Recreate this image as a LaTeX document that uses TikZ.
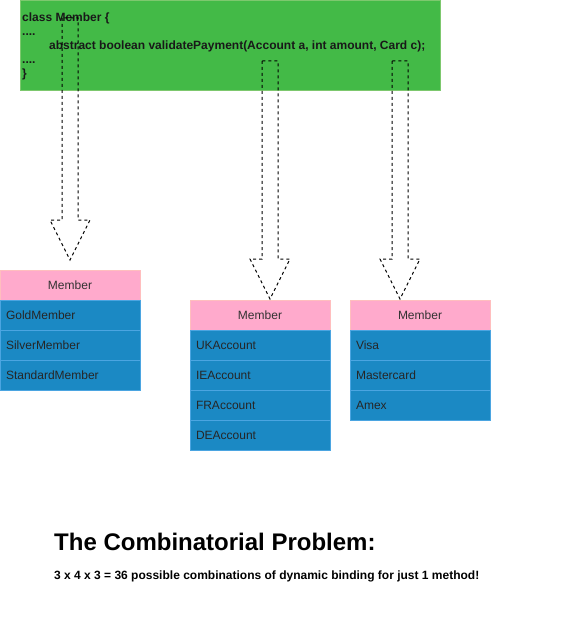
\documentclass[tikz,border=0pt]{standalone}
\usepackage{fontspec}
\setmainfont{Liberation Sans}
\usetikzlibrary{positioning}
\usetikzlibrary{calc}

\definecolor{codegreen}{RGB}{67,186,71}
\definecolor{codeline}{RGB}{125,200,110}
\definecolor{hdrpink}{RGB}{255,170,204}
\definecolor{hdrline}{RGB}{255,190,190}
\definecolor{rowblue}{RGB}{27,137,196}
\definecolor{rowline}{RGB}{75,165,225}

\tikzset{
	hdr/.style={draw=hdrline, fill=hdrpink, minimum width=140pt, minimum height=30pt, inner sep=0pt, outer sep=0pt, font=\fontsize{12}{14}\selectfont, text=black!80},
	row/.style={draw=rowline, fill=rowblue, minimum width=140pt, minimum height=30pt, inner xsep=6pt, inner ysep=0pt, outer sep=0pt, text width=128pt, align=left, font=\fontsize{12}{14}\selectfont, text=black!85},
	blockarr/.style={draw=black, dash pattern=on 3pt off 3pt, line width=1pt},
}

\newcommand{\blockarrow}[2]{%
	\draw[blockarr] let \p1=(#1), \p2=(#2) in
		(\x1-8pt,\y1) -- (\x1-8pt,\y2+40pt) -- (\x1-20pt,\y2+40pt) -- (\x2,\y2)
		-- (\x1+20pt,\y2+40pt) -- (\x1+8pt,\y2+40pt) -- (\x1+8pt,\y1) -- cycle;}

\begin{document}
\begin{tikzpicture}[x=1pt,y=-1pt]
	\useasboundingbox (0,0) rectangle (579,644);

	\node[fill=codegreen, draw=codeline, minimum width=420pt, minimum height=90pt, outer sep=0pt] (code) at (230,45) {};
	\node[anchor=north west, inner sep=0pt, align=left, font=\bfseries\fontsize{12}{14}\selectfont, text=black!90] (src) at (22,12.5)
		{class Member \{\\....\\\hspace*{27pt}abstract boolean validatePayment(Account a, int amount, Card c);\\....\\\}};

	\node[hdr] (mem) at (70,285) {Member};
	\node[row, below=0pt of mem] (gold) {GoldMember};
	\node[row, below=0pt of gold] (silver) {SilverMember};
	\node[row, below=0pt of silver] (std) {StandardMember};

	\node[hdr] (acct) at (260,315) {Member};
	\node[row, below=0pt of acct] (uk) {UKAccount};
	\node[row, below=0pt of uk] (ie) {IEAccount};
	\node[row, below=0pt of ie] (fr) {FRAccount};
	\node[row, below=0pt of fr] (de) {DEAccount};

	\node[hdr] (card) at (420,315) {Member};
	\node[row, below=0pt of card] (visa) {Visa};
	\node[row, below=0pt of visa] (mc) {Mastercard};
	\node[row, below=0pt of mc] (amex) {Amex};

	\coordinate (s1) at (70,18);
	\coordinate (s2) at (270,61);
	\coordinate (s3) at (400,61);
	\coordinate (t1) at ([yshift=10pt]mem.north);
	\coordinate (t2) at ([xshift=10pt,yshift=1pt]acct.north);
	\coordinate (t3) at ([xshift=-20pt,yshift=1pt]card.north);
	\blockarrow{s1}{t1}
	\blockarrow{s2}{t2}
	\blockarrow{s3}{t3}

	\node[anchor=west, inner sep=0pt, font=\bfseries\fontsize{24}{28}\selectfont] (title) at (54,542) {The Combinatorial Problem:};
	\node[anchor=west, inner sep=0pt, font=\bfseries\fontsize{12}{14}\selectfont] (note) at (54,576) {3 x 4 x 3 = 36 possible combinations of dynamic binding for just 1 method!};
\end{tikzpicture}
\end{document}
